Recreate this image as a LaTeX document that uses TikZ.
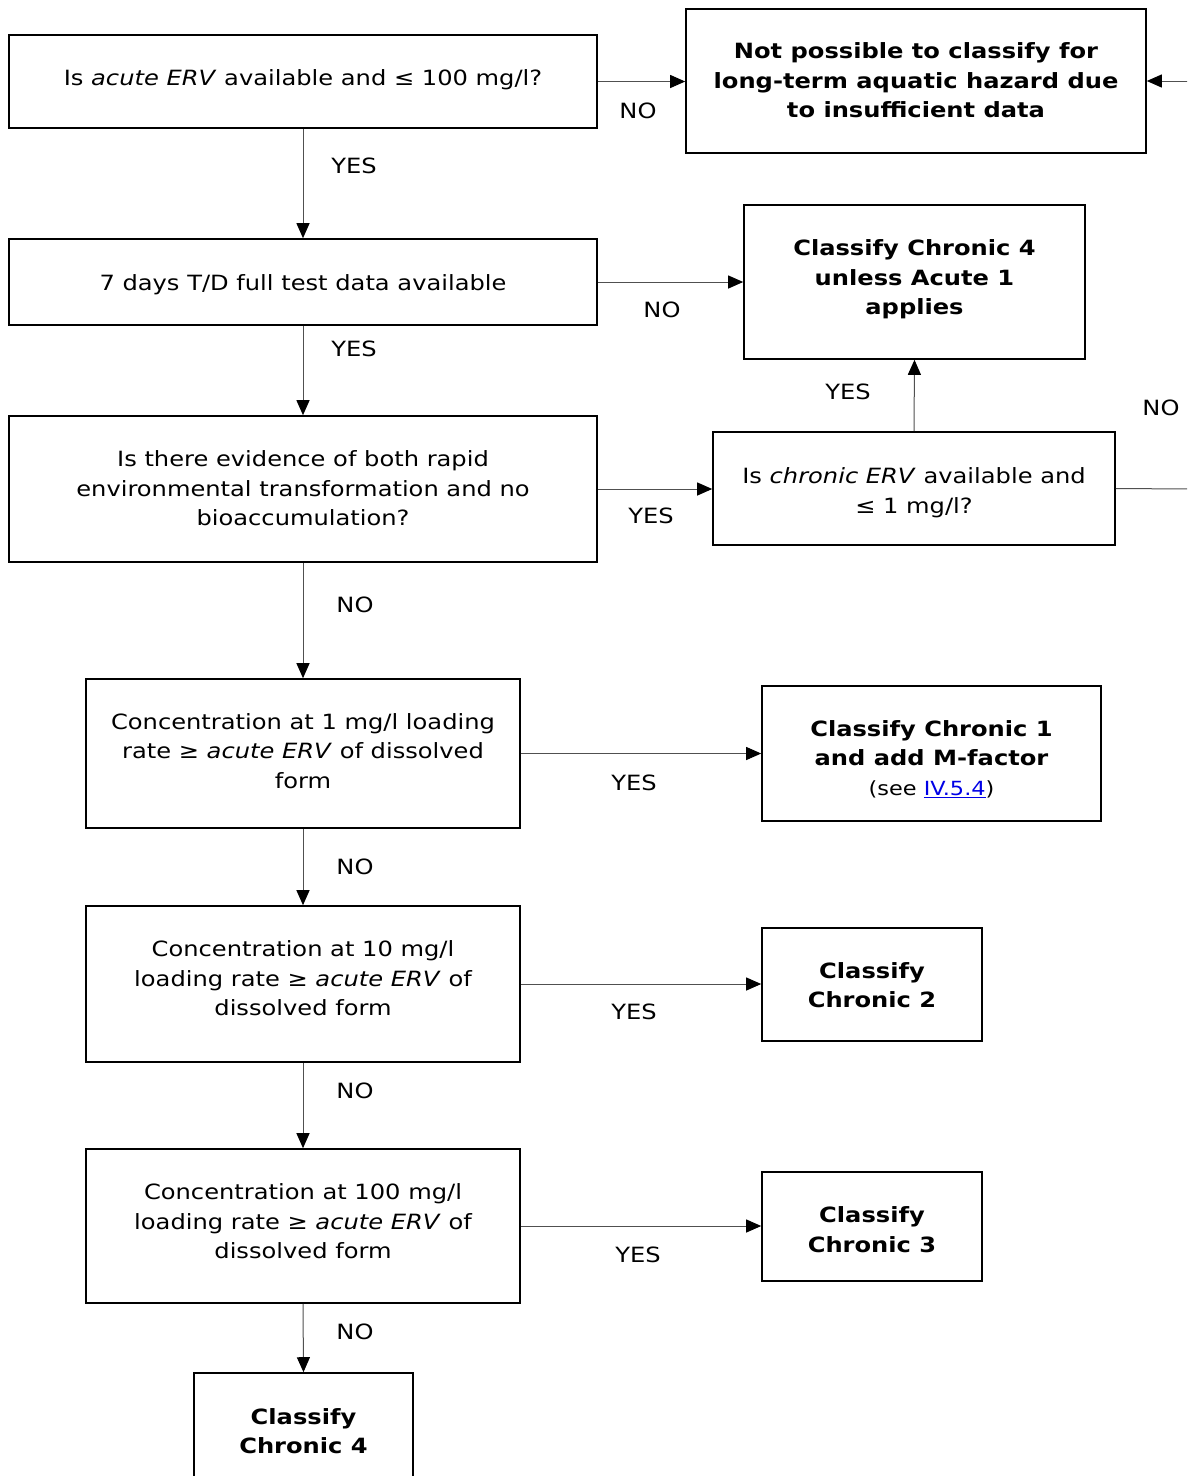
\documentclass[tikz,border=0pt]{standalone}
\usepackage{fontspec}
\setmainfont{DejaVu Sans}[FakeStretch=1.15]
\usetikzlibrary{arrows.meta}
\definecolor{linkblue}{RGB}{0,0,230}
\definecolor{conn}{RGB}{80,80,80}
\begin{document}
\begin{tikzpicture}[x=1pt,y=-1pt,
  box/.style={draw=black,line width=1.6pt,inner sep=0pt,align=center,font=\fontsize{21}{29.5}\selectfont},
  bbox/.style={box,font=\fontsize{21}{29.5}\selectfont\bfseries},
  lbl/.style={inner sep=0pt,font=\fontsize{21}{24}\selectfont},
  arr/.style={draw=conn,line width=1pt,-{Triangle[length=15pt,width=13pt,color=black,fill=black]}},
  plain/.style={draw=conn,line width=1pt}]
\clip (0,0) rectangle (1187,1476);
% nodes
\node[box,minimum width=588,minimum height=93] (q1) at (303,81.5) {};
\node[bbox,minimum width=460,minimum height=144] (np) at (916,81) {};
\node[box,minimum width=588,minimum height=86] (q2) at (303,282) {};
\node[bbox,minimum width=341,minimum height=154] (c4a) at (914.5,282) {};
\node[box,minimum width=588,minimum height=146] (q3) at (303,489) {};
\node[box,minimum width=402,minimum height=113] (q4) at (914,488.5) {};
\node[box,minimum width=434,minimum height=149] (q5) at (303,753.5) {};
\node[bbox,minimum width=339,minimum height=135] (c1) at (931.5,753.5) {};
\node[box,minimum width=434,minimum height=156] (q6) at (303,984) {};
\node[bbox,minimum width=220,minimum height=113] (c2) at (872,984.5) {};
\node[box,minimum width=434,minimum height=154] (q7) at (303,1226) {};
\node[bbox,minimum width=220,minimum height=109] (c3) at (872,1226.5) {};
\node[bbox,minimum width=219,minimum height=114] (c4b) at (303.5,1430) {};
% texts
\node[box,draw=none] (t1) at (303,79.5) {Is \textit{acute ERV} available and ≤ 100 mg/l?};
\node[bbox,draw=none] (t2) at (916,80.5) {Not possible to classify for\\long-term aquatic hazard due\\to insufficient data};
\node[box,draw=none] (t3) at (303,285) {7 days T/D full test data available};
\node[bbox,draw=none] (t4) at (914.5,279.5) {Classify Chronic 4\\unless Acute 1\\applies};
\node[box,draw=none] (t5) at (303,488.5) {Is there evidence of both rapid\\environmental transformation and no\\bioaccumulation?};
\node[box,draw=none] (t6) at (914,492.5) {Is \textit{chronic ERV} available and\\≤ 1 mg/l?};
\node[box,draw=none] (t7) at (303,751) {Concentration at 1 mg/l loading\\rate ≥ \textit{acute ERV} of dissolved\\form};
\node[bbox,draw=none] (t8) at (931.5,759) {Classify Chronic 1\\and add M-factor\\{\mdseries\fontsize{19.5}{29.5}\selectfont (see \textcolor{linkblue}{\underline{IV.5.4}})}};
\node[box,draw=none] (t9) at (303,978.5) {Concentration at 10 mg/l\\loading rate ≥ \textit{acute ERV} of\\dissolved form};
\node[bbox,draw=none] (t10) at (872,985) {Classify\\Chronic 2};
\node[box,draw=none] (t11) at (303,1221.5) {Concentration at 100 mg/l\\loading rate ≥ \textit{acute ERV} of\\dissolved form};
\node[bbox,draw=none] (t12) at (872,1229.5) {Classify\\Chronic 3};
\node[bbox,draw=none] (t13) at (303.5,1431) {Classify\\Chronic 4};
\coordinate (e1) at (1190,489);
\coordinate (e2) at (1190,81);
% connectors
\draw[arr] (q1.east) -- (q1.east -| np.west);
\draw[arr] (q1.south) -- (q2.north);
\draw[arr] (q2.east) -- (q2.east -| c4a.west);
\draw[arr] (q2.south) -- (q3.north);
\draw[arr] (q3.east) -- (q3.east -| q4.west);
\draw[arr] (q4.north) -- (c4a.south);
\draw[plain] (q4.east) -- (e1);
\draw[arr] (e2) -- (e2 -| np.east);
\draw[arr] (q3.south) -- (q5.north);
\draw[arr] (q5.east) -- (q5.east -| c1.west);
\draw[arr] (q5.south) -- (q6.north);
\draw[arr] (q6.east) -- (q6.east -| c2.west);
\draw[arr] (q6.south) -- (q7.north);
\draw[arr] (q7.east) -- (q7.east -| c3.west);
\draw[arr] (q7.south) -- (c4b.north);
% labels
\node[lbl] (l1) at (638,111) {NO};
\node[lbl] (l2) at (354,166) {YES};
\node[lbl] (l3) at (662,310) {NO};
\node[lbl] (l4) at (354,349) {YES};
\node[lbl] (l5) at (651,516) {YES};
\node[lbl] (l6) at (848,392) {YES};
\node[lbl] (l7) at (1161,408) {NO};
\node[lbl] (l8) at (355,605) {NO};
\node[lbl] (l9) at (634,783) {YES};
\node[lbl] (l10) at (355,867) {NO};
\node[lbl] (l11) at (634,1012) {YES};
\node[lbl] (l12) at (355,1091) {NO};
\node[lbl] (l13) at (638,1255) {YES};
\node[lbl] (l14) at (355,1332) {NO};
\end{tikzpicture}
\end{document}
